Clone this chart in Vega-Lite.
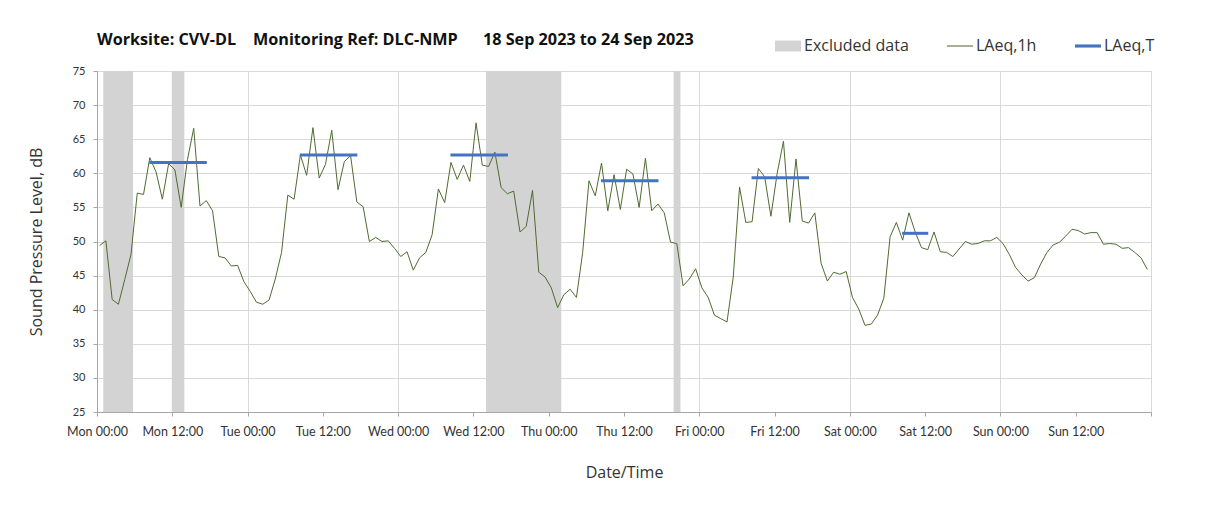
{
"$schema": "https://vega.github.io/schema/vega-lite/v6.json",
"width": 1054, "height": 341,
"autosize": {"type": "none"},
"padding": {"left": 97, "top": 71, "right": 57, "bottom": 97},
"background": "white",
"config": {
  "font": "Lato",
  "view": {"stroke": "#a6a6a6", "strokeWidth": 1},
  "axis": {"labelFont": "Lato", "titleFont": "Open Sans", "labelColor": "#333333", "titleColor": "#333333", "titleFontWeight": "normal", "domainColor": "#a6a6a6", "tickColor": "#a6a6a6", "tickSize": 4}
},
"title": {"text": "Worksite: CVV-DL\u00a0\u00a0\u00a0\u00a0Monitoring Ref: DLC-NMP\u00a0\u00a0\u00a0\u00a0\u00a0\u00a018 Sep 2023 to 24 Sep 2023", "anchor": "start", "frame": "group", "fontSize": 16.2, "fontWeight": "bold", "color": "#111111", "font": "Open Sans", "offset": 10, "dy": 25},
"datasets": {
"hourly": [
{"t":"2023-09-18T00:25","L":49.4},{"t":"2023-09-18T01:25","L":50.1},{"t":"2023-09-18T02:25","L":41.5},{"t":"2023-09-18T03:25","L":40.8},{"t":"2023-09-18T04:25","L":44.4},{"t":"2023-09-18T05:25","L":48.1},{"t":"2023-09-18T06:25","L":57.1},{"t":"2023-09-18T07:25","L":56.9},{"t":"2023-09-18T08:25","L":62.3},{"t":"2023-09-18T09:25","L":60.2},{"t":"2023-09-18T10:25","L":56.2},{"t":"2023-09-18T11:25","L":61.4},{"t":"2023-09-18T12:25","L":60.5},{"t":"2023-09-18T13:25","L":55.0},{"t":"2023-09-18T14:25","L":62.0},{"t":"2023-09-18T15:25","L":66.6},{"t":"2023-09-18T16:25","L":55.2},{"t":"2023-09-18T17:25","L":56.0},{"t":"2023-09-18T18:25","L":54.5},{"t":"2023-09-18T19:25","L":47.8},{"t":"2023-09-18T20:25","L":47.6},{"t":"2023-09-18T21:25","L":46.4},{"t":"2023-09-18T22:25","L":46.5},{"t":"2023-09-18T23:25","L":44.1},
{"t":"2023-09-19T00:25","L":42.7},{"t":"2023-09-19T01:25","L":41.1},{"t":"2023-09-19T02:25","L":40.8},{"t":"2023-09-19T03:25","L":41.4},{"t":"2023-09-19T04:25","L":44.5},{"t":"2023-09-19T05:25","L":48.4},{"t":"2023-09-19T06:25","L":56.8},{"t":"2023-09-19T07:25","L":56.2},{"t":"2023-09-19T08:25","L":62.7},{"t":"2023-09-19T09:25","L":59.7},{"t":"2023-09-19T10:25","L":66.7},{"t":"2023-09-19T11:25","L":59.3},{"t":"2023-09-19T12:25","L":61.3},{"t":"2023-09-19T13:25","L":66.3},{"t":"2023-09-19T14:25","L":57.6},{"t":"2023-09-19T15:25","L":61.7},{"t":"2023-09-19T16:25","L":62.6},{"t":"2023-09-19T17:25","L":55.8},{"t":"2023-09-19T18:25","L":55.1},{"t":"2023-09-19T19:25","L":50.0},{"t":"2023-09-19T20:25","L":50.6},{"t":"2023-09-19T21:25","L":50.0},{"t":"2023-09-19T22:25","L":50.1},{"t":"2023-09-19T23:25","L":49.0},
{"t":"2023-09-20T00:25","L":47.8},{"t":"2023-09-20T01:25","L":48.5},{"t":"2023-09-20T02:25","L":45.8},{"t":"2023-09-20T03:25","L":47.6},{"t":"2023-09-20T04:25","L":48.4},{"t":"2023-09-20T05:25","L":51.0},{"t":"2023-09-20T06:25","L":57.7},{"t":"2023-09-20T07:25","L":55.7},{"t":"2023-09-20T08:25","L":61.6},{"t":"2023-09-20T09:25","L":59.1},{"t":"2023-09-20T10:25","L":61.2},{"t":"2023-09-20T11:25","L":58.8},{"t":"2023-09-20T12:25","L":67.4},{"t":"2023-09-20T13:25","L":61.2},{"t":"2023-09-20T14:25","L":61.0},{"t":"2023-09-20T15:25","L":63.1},{"t":"2023-09-20T16:25","L":57.9},{"t":"2023-09-20T17:25","L":57.0},{"t":"2023-09-20T18:25","L":57.4},{"t":"2023-09-20T19:25","L":51.4},{"t":"2023-09-20T20:25","L":52.2},{"t":"2023-09-20T21:25","L":57.5},{"t":"2023-09-20T22:25","L":45.5},{"t":"2023-09-20T23:25","L":44.8},
{"t":"2023-09-21T00:25","L":43.2},{"t":"2023-09-21T01:25","L":40.3},{"t":"2023-09-21T02:25","L":42.2},{"t":"2023-09-21T03:25","L":43.0},{"t":"2023-09-21T04:25","L":41.8},{"t":"2023-09-21T05:25","L":48.4},{"t":"2023-09-21T06:25","L":58.9},{"t":"2023-09-21T07:25","L":56.7},{"t":"2023-09-21T08:25","L":61.5},{"t":"2023-09-21T09:25","L":54.5},{"t":"2023-09-21T10:25","L":59.8},{"t":"2023-09-21T11:25","L":54.7},{"t":"2023-09-21T12:25","L":60.6},{"t":"2023-09-21T13:25","L":59.9},{"t":"2023-09-21T14:25","L":55.0},{"t":"2023-09-21T15:25","L":62.2},{"t":"2023-09-21T16:25","L":54.5},{"t":"2023-09-21T17:25","L":55.5},{"t":"2023-09-21T18:25","L":54.2},{"t":"2023-09-21T19:25","L":49.9},{"t":"2023-09-21T20:25","L":49.7},{"t":"2023-09-21T21:25","L":43.5},{"t":"2023-09-21T22:25","L":44.5},{"t":"2023-09-21T23:25","L":46.0},
{"t":"2023-09-22T00:25","L":43.2},{"t":"2023-09-22T01:25","L":41.8},{"t":"2023-09-22T02:25","L":39.2},{"t":"2023-09-22T03:25","L":38.7},{"t":"2023-09-22T04:25","L":38.2},{"t":"2023-09-22T05:25","L":44.8},{"t":"2023-09-22T06:25","L":58.0},{"t":"2023-09-22T07:25","L":52.8},{"t":"2023-09-22T08:25","L":52.9},{"t":"2023-09-22T09:25","L":60.7},{"t":"2023-09-22T10:25","L":59.5},{"t":"2023-09-22T11:25","L":53.7},{"t":"2023-09-22T12:25","L":60.0},{"t":"2023-09-22T13:25","L":64.7},{"t":"2023-09-22T14:25","L":52.8},{"t":"2023-09-22T15:25","L":62.1},{"t":"2023-09-22T16:25","L":53.0},{"t":"2023-09-22T17:25","L":52.7},{"t":"2023-09-22T18:25","L":54.2},{"t":"2023-09-22T19:25","L":46.8},{"t":"2023-09-22T20:25","L":44.2},{"t":"2023-09-22T21:25","L":45.5},{"t":"2023-09-22T22:25","L":45.2},{"t":"2023-09-22T23:25","L":45.6},
{"t":"2023-09-23T00:25","L":41.8},{"t":"2023-09-23T01:25","L":40.1},{"t":"2023-09-23T02:25","L":37.7},{"t":"2023-09-23T03:25","L":37.9},{"t":"2023-09-23T04:25","L":39.2},{"t":"2023-09-23T05:25","L":41.7},{"t":"2023-09-23T06:25","L":50.7},{"t":"2023-09-23T07:25","L":52.8},{"t":"2023-09-23T08:25","L":50.2},{"t":"2023-09-23T09:25","L":54.2},{"t":"2023-09-23T10:25","L":51.4},{"t":"2023-09-23T11:25","L":49.1},{"t":"2023-09-23T12:25","L":48.8},{"t":"2023-09-23T13:25","L":51.4},{"t":"2023-09-23T14:25","L":48.5},{"t":"2023-09-23T15:25","L":48.4},{"t":"2023-09-23T16:25","L":47.8},{"t":"2023-09-23T17:25","L":48.9},{"t":"2023-09-23T18:25","L":50.0},{"t":"2023-09-23T19:25","L":49.6},{"t":"2023-09-23T20:25","L":49.7},{"t":"2023-09-23T21:25","L":50.1},{"t":"2023-09-23T22:25","L":50.1},{"t":"2023-09-23T23:25","L":50.6},
{"t":"2023-09-24T00:25","L":49.7},{"t":"2023-09-24T01:25","L":48.1},{"t":"2023-09-24T02:25","L":46.2},{"t":"2023-09-24T03:25","L":45.1},{"t":"2023-09-24T04:25","L":44.2},{"t":"2023-09-24T05:25","L":44.7},{"t":"2023-09-24T06:25","L":46.7},{"t":"2023-09-24T07:25","L":48.4},{"t":"2023-09-24T08:25","L":49.5},{"t":"2023-09-24T09:25","L":49.9},{"t":"2023-09-24T10:25","L":50.8},{"t":"2023-09-24T11:25","L":51.8},{"t":"2023-09-24T12:25","L":51.6},{"t":"2023-09-24T13:25","L":51.1},{"t":"2023-09-24T14:25","L":51.3},{"t":"2023-09-24T15:25","L":51.3},{"t":"2023-09-24T16:25","L":49.6},{"t":"2023-09-24T17:25","L":49.7},{"t":"2023-09-24T18:25","L":49.6},{"t":"2023-09-24T19:25","L":49.0},{"t":"2023-09-24T20:25","L":49.1},{"t":"2023-09-24T21:25","L":48.4},{"t":"2023-09-24T22:25","L":47.6},{"t":"2023-09-24T23:25","L":45.9}
],
"excluded": [
{"start":"2023-09-18T01:00","end":"2023-09-18T05:45"},
{"start":"2023-09-18T11:55","end":"2023-09-18T13:55"},
{"start":"2023-09-20T14:00","end":"2023-09-21T02:00"},
{"start":"2023-09-21T19:55","end":"2023-09-21T21:00"}
],
"laeqt": [
{"start":"2023-09-18T08:20","end":"2023-09-18T17:30","L":61.6},
{"start":"2023-09-19T08:20","end":"2023-09-19T17:30","L":62.7},
{"start":"2023-09-20T08:20","end":"2023-09-20T17:30","L":62.7},
{"start":"2023-09-21T08:20","end":"2023-09-21T17:30","L":58.9},
{"start":"2023-09-22T08:20","end":"2023-09-22T17:30","L":59.35},
{"start":"2023-09-23T08:20","end":"2023-09-23T12:30","L":51.2}
]
},
"layer": [
{
  "data": {"name": "excluded"},
  "mark": {"type": "rect"},
  "encoding": {
    "x": {"field": "start", "type": "temporal",
      "scale": {"domain": [{"year": 2023, "month": 9, "date": 18, "hours": 0}, {"year": 2023, "month": 9, "date": 25, "hours": 0}]},
      "axis": {"title": "Date/Time", "titleFontSize": 16, "titlePadding": 27, "labelFontSize": 12.5, "labelPadding": 9, "labelFlush": false, "labelOverlap": false, "tickCount": 30,
        "values": [
          {"year":2023,"month":9,"date":18,"hours":0},{"year":2023,"month":9,"date":18,"hours":12},
          {"year":2023,"month":9,"date":19,"hours":0},{"year":2023,"month":9,"date":19,"hours":12},
          {"year":2023,"month":9,"date":20,"hours":0},{"year":2023,"month":9,"date":20,"hours":12},
          {"year":2023,"month":9,"date":21,"hours":0},{"year":2023,"month":9,"date":21,"hours":12},
          {"year":2023,"month":9,"date":22,"hours":0},{"year":2023,"month":9,"date":22,"hours":12},
          {"year":2023,"month":9,"date":23,"hours":0},{"year":2023,"month":9,"date":23,"hours":12},
          {"year":2023,"month":9,"date":24,"hours":0},{"year":2023,"month":9,"date":24,"hours":12},
          {"year":2023,"month":9,"date":25,"hours":0}],
        "labelExpr": "date(datum.value) === 25 ? '' : timeFormat(datum.value, '%a %H:%M')",
        "grid": true,
        "gridColor": {"condition": {"test": "hours(datum.value) === 0", "value": "#d9d9d9"}, "value": "rgba(0,0,0,0)"}
      }},
    "x2": {"field": "end"},
    "color": {"datum": "Excluded data", "type": "nominal",
      "scale": {"domain": ["Excluded data", "LAeq,1h", "LAeq,T"], "range": ["#d3d3d3", "#4f6b31", "#4472c4"]},
      "legend": {"orient": "none", "legendX": 678, "legendY": -38, "direction": "horizontal", "title": null,
        "symbolType": "square", "symbolSize": 676, "labelFontSize": 16, "labelFont": "Open Sans", "labelColor": "#333333",
        "columnPadding": 38, "labelOffset": 3, "padding": 0,
        "encode": {"symbols": {"update": {
          "shape": {"signal": "datum.value === 'Excluded data' ? 'M-1,-0.42H1V0.42H-1Z' : datum.value === 'LAeq,T' ? 'M-1,-0.12H1V0.12H-1Z' : 'M-1,-0.04H1V0.04H-1Z'"},
          "fill": {"signal": "scale('color', datum.value)"},
          "strokeWidth": {"value": 0},
          "stroke": {"value": "transparent"},
          "opacity": {"value": 1},
          "fillOpacity": {"value": 1}
        }}}}
    }
  }
},
{
  "data": {"name": "hourly"},
  "mark": {"type": "line", "strokeWidth": 1},
  "encoding": {
    "x": {"field": "t", "type": "temporal"},
    "y": {"field": "L", "type": "quantitative",
      "scale": {"domain": [25, 75], "nice": false, "zero": false},
      "axis": {"title": "Sound Pressure Level, dB", "titleFontSize": 16, "titlePadding": 28, "labelFontSize": 11, "labelPadding": 8, "labelOverlap": false, "tickCount": 11,
        "values": [25, 30, 35, 40, 45, 50, 55, 60, 65, 70, 75], "grid": true, "gridColor": "#d9d9d9"}},
    "color": {"datum": "LAeq,1h", "type": "nominal"}
  }
},
{
  "data": {"name": "laeqt"},
  "mark": {"type": "rule", "strokeWidth": 3},
  "encoding": {
    "x": {"field": "start", "type": "temporal"},
    "x2": {"field": "end"},
    "y": {"field": "L", "type": "quantitative"},
    "color": {"datum": "LAeq,T", "type": "nominal"}
  }
}
]
}
